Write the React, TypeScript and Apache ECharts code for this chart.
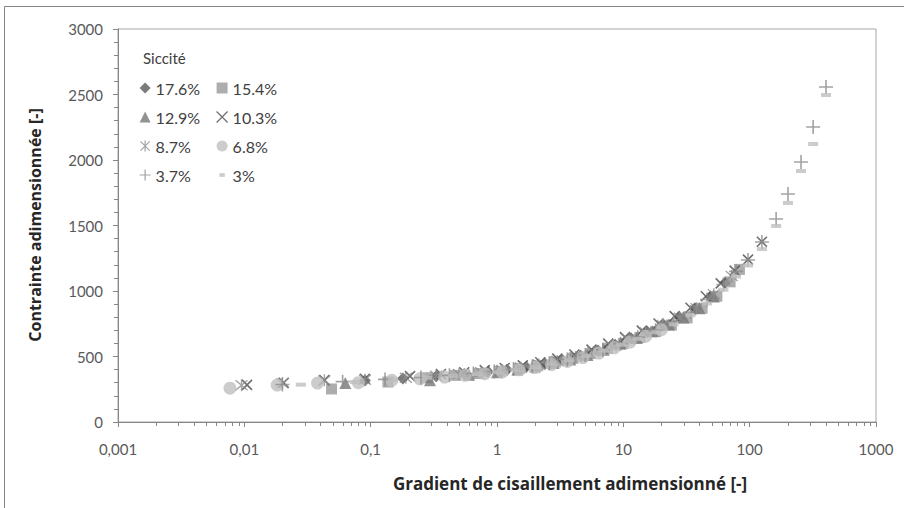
import React, { useEffect, useRef } from 'react';
import * as echarts from 'echarts';

const FONT = 'Lato, "Open Sans", sans-serif';
const TITLE_FONT = '"Open Sans", Lato, sans-serif';

// Siccité categories
const seriesNames = ['17.6%', '15.4%', '12.9%', '10.3%', '8.7%', '6.8%', '3.7%', '3%'];

// 17.6 %
const gamma176 = [0.09, 0.18, 0.33, 0.55, 0.85, 1.2, 1.7, 2.4, 3.3, 4.6, 6.3, 8.6, 11.5, 15.5, 21, 28, 37, 49, 64];
const tau176 = [316, 333, 350, 366, 383, 399, 419, 445, 472, 505, 545, 590, 640, 688, 738, 795, 860, 955, 1065];

// 15.4 %
const gamma154 = [0.049, 0.137, 0.28, 0.47, 0.72, 1.05, 1.5, 2.1, 2.9, 4.0, 5.5, 7.5, 10, 13.5, 18, 24, 32, 42, 55, 70, 83];
const tau154 = [252, 305, 338, 356, 370, 388, 408, 430, 458, 486, 522, 562, 600, 645, 690, 740, 795, 868, 960, 1070, 1165];

// 12.9 %
const gamma129 = [0.063, 0.295, 0.6, 1.0, 1.45, 2.0, 2.8, 3.8, 5.2, 7.0, 9.5, 12.8, 17, 23, 30, 40, 52];
const tau129 = [298, 318, 360, 380, 400, 423, 450, 478, 512, 552, 597, 642, 692, 745, 798, 868, 958];

// 10.3 %
const gamma103 = [0.0105, 0.0205, 0.043, 0.09, 0.205, 0.36, 0.55, 0.8, 1.15, 1.6, 2.2, 3.0, 4.1, 5.6, 7.6, 10.3, 14, 19, 25.5, 34, 45, 59, 76, 97, 125];
const tau103 = [283, 300, 320, 330, 350, 366, 380, 396, 412, 432, 456, 484, 515, 552, 598, 648, 698, 752, 808, 872, 960, 1058, 1156, 1240, 1376];

// 8.7 %
const gamma87 = [0.0095, 0.02, 0.043, 0.09, 0.19, 0.33, 0.5, 0.75, 1.1, 1.55, 2.15, 3.0, 4.2, 5.8, 8.0, 11, 15, 20.5, 28, 38, 52, 72];
const tau87 = [280, 296, 318, 322, 338, 352, 366, 380, 396, 415, 438, 466, 497, 535, 580, 630, 685, 740, 795, 868, 975, 1115];

// 6.8 %
const gamma68 = [0.0077, 0.0182, 0.038, 0.08, 0.147, 0.245, 0.385, 0.56, 0.8, 1.1, 1.5, 2.0, 2.7, 3.6, 4.8, 6.4, 8.5, 11.3, 15, 20];
const tau68 = [258, 282, 297, 300, 318, 330, 343, 356, 369, 382, 398, 416, 438, 462, 492, 526, 566, 610, 655, 705];

// 3.7 %
const gamma37 = [0.02, 0.06, 0.13, 0.25, 0.42, 0.65, 0.95, 1.35, 1.9, 2.6, 3.6, 5.0, 6.9, 9.5, 13, 18, 25, 34, 46, 62, 78, 97, 125, 162, 201, 255, 318, 402];
const tau37 = [286, 308, 325, 340, 356, 370, 386, 404, 425, 450, 478, 512, 552, 598, 648, 700, 765, 840, 935, 1050, 1150, 1237, 1374, 1550, 1740, 1985, 2252, 2557];

// 3 %
const gamma3 = [0.028, 0.075, 0.15, 0.28, 0.45, 0.7, 1.0, 1.4, 2.0, 2.7, 3.7, 5.1, 7.0, 9.6, 13, 18, 25, 34, 46, 62, 78, 97, 125, 162, 201, 255, 318, 402];
const tau3 = [285, 305, 322, 338, 352, 366, 380, 398, 420, 445, 472, 505, 545, 590, 635, 685, 745, 815, 905, 1010, 1110, 1195, 1320, 1496, 1672, 1916, 2122, 2496];

const gammaSets = [gamma176, gamma154, gamma129, gamma103, gamma87, gamma68, gamma37, gamma3];
const tauSets = [tau176, tau154, tau129, tau103, tau87, tau68, tau37, tau3];

// y ticks
const yMin = 0;
const yMax = 3000;
const yInterval = 500;

const X_PATH = 'path://M0,0L10,10M10,0L0,10';
const AST_PATH = 'path://M0,0L10,10M10,0L0,10M5,-1L5,11';
const PLUS_PATH = 'path://M5,0L5,10M0,5L10,5';
const DASH_PATH = 'path://M0,0h9v4h-9z';
const DASH_LEGEND = 'path://M0,0M12,12M3,4h6v4h-6z';

const styles: any[] = [
  { symbol: 'diamond', symbolSize: 12, itemStyle: { color: '#595959' } },
  { symbol: 'rect', symbolSize: 11, itemStyle: { color: '#999999' } },
  { symbol: 'triangle', symbolSize: 12, itemStyle: { color: '#777777' } },
  { symbol: X_PATH, symbolSize: 10, itemStyle: { color: 'rgba(0,0,0,0)', borderColor: '#4a4a4a', borderWidth: 1.6 } },
  { symbol: AST_PATH, symbolSize: 12, itemStyle: { color: 'rgba(0,0,0,0)', borderColor: '#8c8c8c', borderWidth: 1.4 } },
  { symbol: 'circle', symbolSize: 13, itemStyle: { color: '#bfbfbf' } },
  { symbol: PLUS_PATH, symbolSize: 14, itemStyle: { color: 'rgba(0,0,0,0)', borderColor: '#8c8c8c', borderWidth: 1.6 } },
  { symbol: DASH_PATH, symbolSize: [10, 4], itemStyle: { color: '#bfbfbf' } },
];

const minorTickValues: number[] = [];
for (let k = -3; k <= 2; k++) {
  for (let m = 2; m <= 9; m++) minorTickValues.push(Number((m * Math.pow(10, k)).toPrecision(6)));
}

export default function App() {
  const ref = useRef<HTMLDivElement>(null);
  useEffect(() => {
    if (!ref.current) return;
    const chart = echarts.init(ref.current, null, { renderer: 'svg' });
    const scatterSeries = seriesNames.map((name, i) => ({
      name,
      type: 'scatter',
      data: gammaSets[i].map((g, j) => [g, tauSets[i][j]]),
      symbol: styles[i].symbol,
      symbolSize: styles[i].symbolSize,
      itemStyle: styles[i].itemStyle,
      z: 3,
    }));
    const legendCommon = {
      orient: 'vertical',
      padding: 0,
      itemWidth: 11,
      itemHeight: 11,
      itemGap: 13,
      textStyle: { fontFamily: FONT, fontSize: 16, color: '#404040', lineHeight: 16 },
      itemStyle: { borderWidth: 1.2 },
      selectedMode: false,
    };
    chart.setOption({
      animation: false,
      backgroundColor: '#ffffff',
      grid: { left: 118, top: 29, right: 28, bottom: 86, show: true, borderColor: '#a6a6a6', borderWidth: 1 },
      legend: [
        { ...legendCommon, left: 139, top: 80, data: ['17.6%', '12.9%', '8.7%', '3.7%'] },
        { ...legendCommon, left: 216, top: 80, data: ['15.4%', '10.3%', '6.8%', { name: '3%', icon: DASH_LEGEND }] },
      ],
      xAxis: {
        type: 'log',
        logBase: 10,
        min: 0.001,
        max: 1000,
        splitNumber: 6,
        axisLine: { lineStyle: { color: '#868686' } },
        axisTick: { show: true, length: 5, lineStyle: { color: '#868686' } },
        splitLine: { show: false },
        axisLabel: {
          fontFamily: FONT, fontSize: 15, color: '#595959', margin: 19,
          formatter: (v: number) => String(Number(v.toPrecision(6))).replace('.', ','),
        },
      },
      yAxis: {
        type: 'value',
        min: yMin,
        max: yMax,
        interval: yInterval,
        axisLine: { show: true, lineStyle: { color: '#868686' } },
        axisTick: { show: true, length: 5, lineStyle: { color: '#868686' } },
        minorTick: { show: true, splitNumber: 5, length: 4, lineStyle: { color: '#868686' } },
        splitLine: { show: false },
        axisLabel: { fontFamily: FONT, fontSize: 15, color: '#595959', margin: 15, formatter: (v: number) => String(v) },
      },
      graphic: [
        { type: 'rect', shape: { x: 4.5, y: 6.5, width: 1200, height: 1200 }, style: { fill: 'none', stroke: '#868686', lineWidth: 1 }, silent: true },
        { type: 'text', left: 143, top: 50, style: { text: 'Siccité', font: `15px ${FONT}`, fill: '#404040' } },
        {
          type: 'text', x: 35, y: 225, rotation: Math.PI / 2,
          style: { text: 'Contrainte adimensionnée [-]', font: `bold 16px ${TITLE_FONT}`, fill: '#262626', align: 'center', verticalAlign: 'middle' },
        },
        {
          type: 'text', x: 570, y: 483,
          style: { text: 'Gradient de cisaillement adimensionné [-]', font: `bold 17px ${TITLE_FONT}`, fill: '#262626', align: 'center', verticalAlign: 'middle' },
        },
      ],
      series: [
        ...scatterSeries,
        {
          type: 'custom',
          silent: true,
          clip: false,
          z: 1,
          data: minorTickValues.map((v) => [v, 0]),
          renderItem: (params: any, api: any) => {
            const p = api.coord([api.value(0), 0]);
            const x = Math.round(p[0]) + 0.5;
            return {
              type: 'line',
              shape: { x1: x, y1: p[1], x2: x, y2: p[1] + 4 },
              style: { stroke: '#868686', lineWidth: 1 },
            };
          },
        },
      ],
    });
    return () => chart.dispose();
  }, []);
  return <div ref={ref} style={{ width: 904, height: 508, position: 'absolute', left: 0, top: 0 }} />;
}
